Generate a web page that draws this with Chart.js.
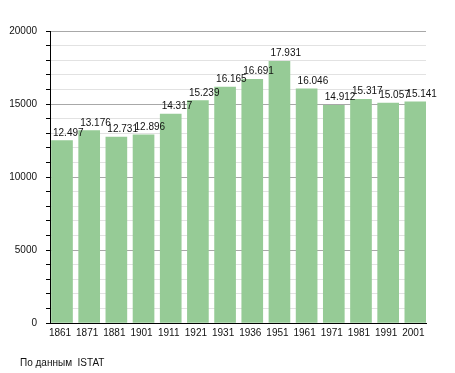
<!DOCTYPE html>
<html>
<head>
<meta charset="utf-8">
<script src="https://cdn.jsdelivr.net/npm/chart.js@4"></script>
<style>
  html, body { margin: 0; padding: 0; background: #fff; }
  #wrap { width: 455px; height: 373px; position: relative; }
</style>
</head>
<body>
<div id="wrap"><canvas id="chart_popolazione"></canvas></div>
<script>
var years = ['1861', '1871', '1881', '1901', '1911', '1921', '1931', '1936', '1951', '1961', '1971', '1981', '1991', '2001'];
var abitanti = [12497, 13176, 12731, 12896, 14317, 15239, 16165, 16691, 17931, 16046, 14912, 15317, 15057, 15141];
var yTicks = [0, 5000, 10000, 15000, 20000];
var footerText = 'По данным  ISTAT';

var FONT = '"Liberation Sans", Arial, sans-serif';

function fmtThousands(v) {
    return Math.floor(v / 1000) + '.' + String(v % 1000).padStart(3, '0');
}

var chart_popolazione = new Chart(document.getElementById('chart_popolazione'), {
    type: 'bar',
    data: {
        datasets: [{
            label: 'Abitanti',
            data: abitanti.map(function(v, i) { return {x: i, y: v}; }),
            backgroundColor: '#96cb96',
            borderWidth: 0,
            barThickness: 21
        }]
    },
    options: {
        animation: false,
        responsive: true,
        maintainAspectRatio: false,
        layout: {
            padding: {left: 0, right: 29, top: 31, bottom: 0}
        },
        plugins: {
            legend: {display: false},
            tooltip: {enabled: false}
        },
        scales: {
            x: {
                type: 'linear',
                offset: false,
                min: -0.4415,
                max: 13.392,
                afterBuildTicks: function(scale) {
                    scale.ticks = years.map(function(_, i) { return {value: i}; });
                },
                afterFit: function(scale) { scale.height = 50; },
                grid: {display: false, drawTicks: false, offset: false},
                border: {display: true, color: '#000', width: 1},
                ticks: {
                    autoSkip: false,
                    maxRotation: 0,
                    padding: 4,
                    labelOffset: -2,
                    color: '#111',
                    font: {family: FONT, size: 10},
                    callback: function(value) { return years[value]; }
                }
            },
            y: {
                min: 0,
                max: 20000,
                afterFit: function(scale) { scale.width = 50; },
                grid: {
                    color: function(ctx) {
                        return yTicks.indexOf(ctx.tick.value) >= 0 ? '#a8a8a8' : '#e2e2e2';
                    },
                    tickColor: '#000',
                    tickLength: 4
                },
                border: {display: true, color: '#000', width: 1},
                ticks: {
                    stepSize: 1000,
                    autoSkip: false,
                    padding: 9,
                    color: '#111',
                    font: {family: FONT, size: 10},
                    callback: function(value) {
                        return yTicks.indexOf(value) >= 0 ? String(value) : '';
                    }
                }
            }
        }
    },
    plugins: [{
        id: 'valueLabels',
        beforeDraw: function(chart) {
            var ctx = chart.ctx;
            ctx.save();
            ctx.fillStyle = '#fff';
            ctx.fillRect(0, 0, chart.width, chart.height);
            ctx.restore();
        },
        afterDatasetsDraw: function(chart) {
            var ctx = chart.ctx;
            var meta = chart.getDatasetMeta(0);
            ctx.save();
            ctx.font = '10px ' + FONT;
            ctx.fillStyle = '#111';
            ctx.textAlign = 'left';
            ctx.textBaseline = 'alphabetic';
            meta.data.forEach(function(bar, i) {
                var left = bar.x - bar.width / 2;
                ctx.fillText(fmtThousands(abitanti[i]), left + 1.5, bar.y - 5);
            });
            ctx.restore();
        },
        afterDraw: function(chart) {
            var ctx = chart.ctx;
            ctx.save();
            ctx.font = '10px ' + FONT;
            ctx.fillStyle = '#111';
            ctx.textAlign = 'left';
            ctx.textBaseline = 'alphabetic';
            ctx.fillText(footerText, 20, 366);
            ctx.restore();
        }
    }]
});
</script>
</body>
</html>
